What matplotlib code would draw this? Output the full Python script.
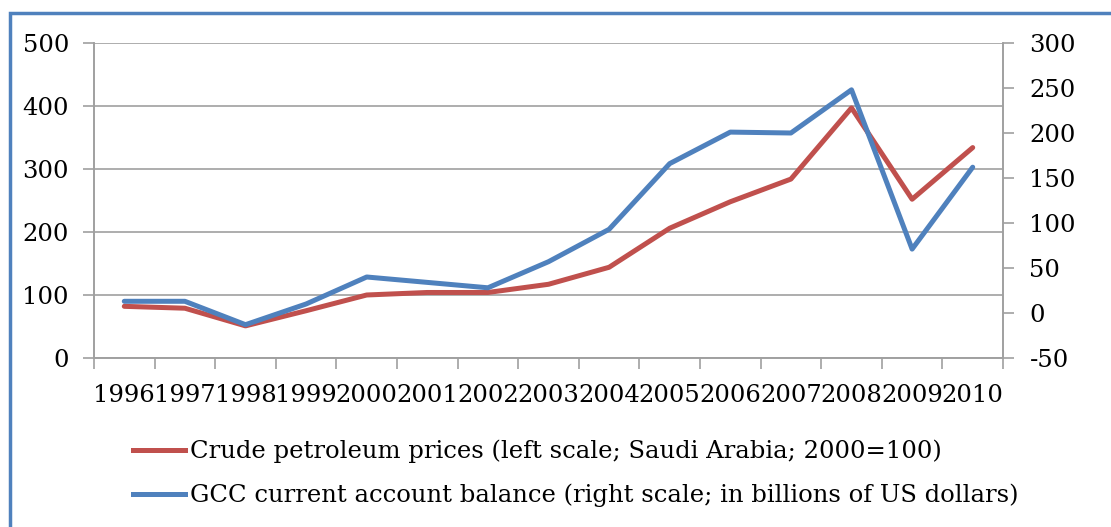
import matplotlib
matplotlib.use("Agg")
import matplotlib.pyplot as plt
from matplotlib.patches import Rectangle
from matplotlib.lines import Line2D

years = ["1996", "1997", "1998", "1999", "2000", "2001", "2002", "2003",
         "2004", "2005", "2006", "2007", "2008", "2009", "2010"]
crude_prices = [82, 79, 51, 75, 100, 104, 104, 117, 144, 206, 248, 284, 397, 252, 334]
gcc_balance = [13, 13, -13, 10, 40, 34, 28, 57, 93, 166, 201, 200, 248, 71, 162]

red = "#C0504D"
blue = "#4F81BD"
gray = "#a0a0a0"

plt.rcParams["font.family"] = "DejaVu Serif"
plt.rcParams["font.size"] = 17.5

fig = plt.figure(figsize=(11.11, 5.27), dpi=100)
ax = fig.add_axes([0.0846, 0.3207, 0.8182, 0.5977])
ax2 = ax.twinx()

x = list(range(len(years)))
ax.plot(x, crude_prices, color=red, lw=3.6, solid_capstyle="round", zorder=3)
ax2.plot(x, gcc_balance, color=blue, lw=3.6, solid_capstyle="round", zorder=3)

ax.set_xlim(-0.5, len(years) - 0.5)
ax.set_ylim(0, 500)
ax.set_yticks([0, 100, 200, 300, 400, 500])
ax2.set_ylim(-50, 300)
ax2.set_yticks([-50, 0, 50, 100, 150, 200, 250, 300])
ax2.set_yticklabels(["-50", "0", "50", "100", "150", "200", "250", "300"])

# ticks between categories, labels at centres
ax.set_xticks([i - 0.5 for i in range(len(years) + 1)])
ax.set_xticklabels([])
ax.set_xticks(x, minor=True)
ax.set_xticklabels(years, minor=True)
ax.tick_params(axis="x", which="major", length=8, color=gray, width=1.2)
ax.tick_params(axis="x", which="minor", length=0, pad=19)
ax.tick_params(axis="y", length=8, color=gray, width=1.2, pad=10)
ax2.tick_params(axis="y", length=8, color=gray, width=1.2, pad=11)

ax.yaxis.grid(True, color=gray, lw=1.2)
ax.set_axisbelow(True)
for a in (ax, ax2):
    for s in a.spines.values():
        s.set_color(gray)
        s.set_linewidth(1.2)
    a.spines["top"].set_visible(False)

handles = [Line2D([], [], color=red, lw=3.6),
           Line2D([], [], color=blue, lw=3.6)]
labels = ["Crude petroleum prices (left scale; Saudi Arabia; 2000=100)",
          "GCC current account balance (right scale; in billions of US dollars)"]
fig.legend(handles, labels, loc="upper left", bbox_to_anchor=(0.1197, 0.166),
           frameon=False, handlelength=2.15, handletextpad=0.2, labelspacing=0.85,
           borderaxespad=0, borderpad=0)

fig.patches.append(Rectangle((10 / 1111, -0.1), 1.2, 1.1 - 13 / 527,
                             transform=fig.transFigure, fill=False,
                             edgecolor=blue, lw=2.5))

fig.savefig("out.png", dpi=100)
